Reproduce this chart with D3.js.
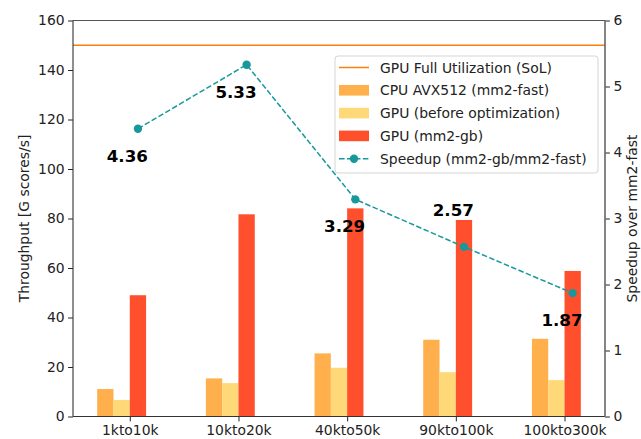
<!DOCTYPE html>
<html>
<head>
<meta charset="utf-8">
<script src="https://cdn.jsdelivr.net/npm/d3@7"></script>
<style>
  html, body { margin: 0; padding: 0; background: #fff; }
  svg { display: block; font-family: "DejaVu Sans", sans-serif; }
</style>
</head>
<body>
<svg id="chart" width="641" height="439"></svg>
<script>
// Throughput per range bucket, with speedup of mm2-gb over mm2-fast
const categories = ["1kto10k", "10kto20k", "40kto50k", "90kto100k", "100kto300k"];
const cpuFast   = [11.1, 15.4, 25.5, 31.0, 31.4];
const gpuBefore = [6.7, 13.5, 19.7, 17.9, 14.7];
const gpuGb     = [49.0, 81.7, 84.1, 79.4, 58.8];
const speedup   = [4.36, 5.33, 3.29, 2.57, 1.87];
const solLevel  = 150;
const leftTicks  = [0, 20, 40, 60, 80, 100, 120, 140, 160];
const rightTicks = [0, 1, 2, 3, 4, 5, 6];

const colors = {
  cpu: "#ffb04d",
  before: "#ffd878",
  gb: "#ff4f2c",
  sol: "#ff7f0e",
  speed: "#17989b"
};

const svg = d3.select("#chart");
const m = { left: 73, right: 605, top: 20.5, bottom: 416.5 };
const barW = 0.15;

// categorical positions are 0..n-1; domain padded the way the plotting lib pads bars
const x0 = -2 * barW, x1 = categories.length - 1 + barW;
const pad = (x1 - x0) * 0.05;
const x = d3.scaleLinear().domain([x0 - pad, x1 + pad]).range([m.left, m.right]);
const y = d3.scaleLinear().domain([0, 160]).range([m.bottom, m.top]);
const y2 = d3.scaleLinear().domain([0, 6]).range([m.bottom, m.top]);

// bars: three series, left edges at i-2w, i-w, i
const series = [
  { vals: cpuFast, off: -2 * barW, color: colors.cpu },
  { vals: gpuBefore, off: -barW, color: colors.before },
  { vals: gpuGb, off: 0, color: colors.gb }
];
const gBars = svg.append("g");
series.forEach(s => {
  gBars.selectAll(null).data(s.vals).enter().append("rect")
    .attr("x", (d, i) => x(i + s.off))
    .attr("width", x(barW) - x(0))
    .attr("y", d => y(d))
    .attr("height", d => y(0) - y(d))
    .attr("fill", s.color);
});

// speed-of-light reference line
svg.append("line")
  .attr("x1", m.left).attr("x2", m.right)
  .attr("y1", y(solLevel)).attr("y2", y(solLevel))
  .attr("stroke", colors.sol).attr("stroke-width", 1.5);

// speedup line on the right axis, centred on the mm2-gb bars
const pts = speedup.map((s, i) => [x(i + barW / 2), y2(s)]);
svg.append("path")
  .attr("d", d3.line()(pts))
  .attr("fill", "none")
  .attr("stroke", colors.speed)
  .attr("stroke-width", 1.5)
  .attr("stroke-dasharray", "5.55,2.4");
svg.selectAll(null).data(pts).enter().append("circle")
  .attr("cx", d => d[0]).attr("cy", d => d[1]).attr("r", 4.2)
  .attr("fill", colors.speed);

// value labels: below each point, above for the fourth bucket
svg.selectAll(null).data(speedup).enter().append("text")
  .attr("x", (d, i) => x(i) - 2.5)
  .attr("y", (d, i) => i === 3 ? y2(d + 0.47) : y2(d - 0.5))
  .attr("text-anchor", "middle")
  .attr("font-size", 16.7)
  .attr("font-weight", "bold")
  .attr("fill", "#000")
  .text(d => d.toFixed(2));

// axes
const fs = 13.9;
const gLeft = svg.append("g").attr("transform", `translate(${m.left},0)`)
  .call(d3.axisLeft(y).tickValues(leftTicks).tickFormat(d3.format("d")).tickSize(4.9).tickPadding(3.5));
const gRight = svg.append("g").attr("transform", `translate(${m.right},0)`)
  .call(d3.axisRight(y2).tickValues(rightTicks).tickFormat(d3.format("d")).tickSize(4.9).tickPadding(3.5));
const gBottom = svg.append("g").attr("transform", `translate(0,${m.bottom})`)
  .call(d3.axisBottom(x).tickValues(d3.range(categories.length))
    .tickFormat(i => categories[i]).tickSize(4.9).tickPadding(3.5));
[gLeft, gRight, gBottom].forEach(g => {
  g.selectAll("text").attr("font-size", fs).attr("font-family", "DejaVu Sans").attr("fill", "#222");
  g.selectAll("line").attr("stroke", "#222").attr("stroke-width", 1);
  g.select(".domain").remove();
});

// frame
svg.append("line").attr("x1", m.left).attr("x2", m.right).attr("y1", m.top).attr("y2", m.top)
  .attr("stroke", "#555").attr("stroke-width", 1.1);
svg.append("line").attr("x1", m.left).attr("x2", m.right).attr("y1", m.bottom).attr("y2", m.bottom)
  .attr("stroke", "#333").attr("stroke-width", 1.1);
svg.append("line").attr("x1", m.left).attr("x2", m.left).attr("y1", m.top).attr("y2", m.bottom)
  .attr("stroke", "#333").attr("stroke-width", 1.1);
svg.append("line").attr("x1", m.right).attr("x2", m.right).attr("y1", m.top).attr("y2", m.bottom)
  .attr("stroke", "#666").attr("stroke-width", 1.6);

// axis titles
svg.append("text")
  .attr("transform", `translate(24,${(m.top + m.bottom) / 2}) rotate(-90)`)
  .attr("text-anchor", "middle").attr("dominant-baseline", "central")
  .attr("font-size", 13.9).attr("fill", "#222")
  .text("Throughput [G scores/s]");
svg.append("text")
  .attr("transform", `translate(632,${(m.top + m.bottom) / 2}) rotate(-90)`)
  .attr("text-anchor", "middle").attr("dominant-baseline", "central")
  .attr("font-size", 13.9).attr("fill", "#222")
  .text("Speedup over mm2-fast");

// legend
const legendItems = [
  { label: "GPU Full Utilization (SoL)", type: "line", color: colors.sol },
  { label: "CPU AVX512 (mm2-fast)", type: "patch", color: colors.cpu },
  { label: "GPU (before optimization)", type: "patch", color: colors.before },
  { label: "GPU (mm2-gb)", type: "patch", color: colors.gb },
  { label: "Speedup (mm2-gb/mm2-fast)", type: "marker", color: colors.speed }
];
const lg = svg.append("g").attr("transform", "translate(335,56)");
lg.append("rect").attr("width", 263).attr("height", 117).attr("rx", 3)
  .attr("fill", "#fff").attr("fill-opacity", 0.8)
  .attr("stroke", "#d5d5d5").attr("stroke-width", 1);
legendItems.forEach((d, i) => {
  const cy = 11.5 + i * 22.8;
  const g = lg.append("g").attr("transform", `translate(0,${cy})`);
  if (d.type === "line") {
    g.append("line").attr("x1", 4).attr("x2", 34).attr("y1", 0).attr("y2", 0)
      .attr("stroke", d.color).attr("stroke-width", 1.5);
  } else if (d.type === "patch") {
    g.append("rect").attr("x", 4).attr("y", -5.3).attr("width", 30).attr("height", 10.6)
      .attr("fill", d.color);
  } else {
    g.append("line").attr("x1", 4).attr("x2", 34).attr("y1", 0).attr("y2", 0)
      .attr("stroke", d.color).attr("stroke-width", 1.5).attr("stroke-dasharray", "5.55,2.4");
    g.append("circle").attr("cx", 19).attr("cy", 0).attr("r", 4.2).attr("fill", d.color);
  }
  g.append("text").attr("x", 45).attr("y", 0).attr("dy", "0.36em")
    .attr("font-size", 13.9).attr("fill", "#222").text(d.label);
});
</script>
</body>
</html>
